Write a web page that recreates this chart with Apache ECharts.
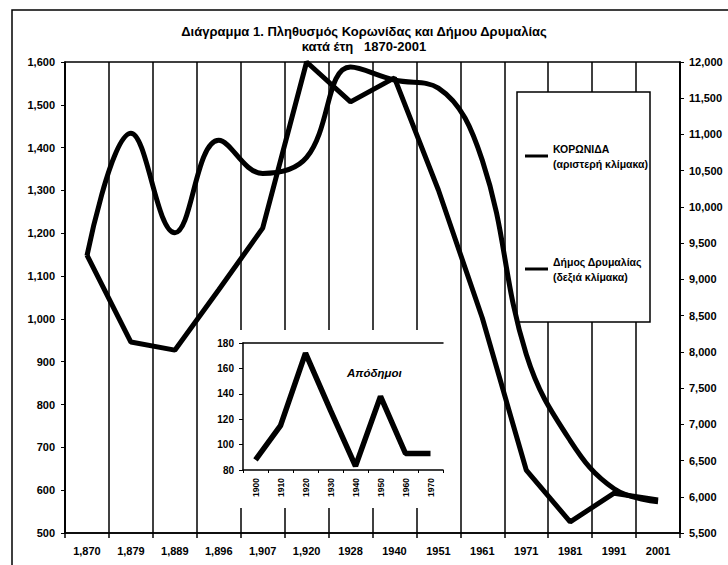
<!DOCTYPE html>
<html><head><meta charset="utf-8">
<script src="https://cdn.jsdelivr.net/npm/echarts@6/dist/echarts.min.js"></script>
<style>html,body{margin:0;padding:0;background:#fff}#c{width:728px;height:565px}</style>
</head><body><div id="c"></div>
<script>
const years = ["1,870","1,879","1,889","1,896","1,907","1,920","1928","1940","1951","1961","1971","1981","1991","2001"];
const koronida = [1149, 946, 927, 1068, 1212, 1600, 1507, 1563, 1301, 1002, 647, 526, 593, 577];
const drymalia = [9325, 11016, 9644, 10919, 10462, 10683, 11931, 11751, 11640, 10642, 7967, 6776, 6110, 5930];
const insetCats = ["1900","1910","1920","1930","1940","1950","1960","1970"];
const insetVals = [88, 115, 172, 127, 83, 138, 93, 93];
const titleLines = ["Διάγραμμα 1. Πληθυσμός Κορωνίδας και Δήμου Δρυμαλίας", "κατά έτη   1870-2001"];
const nameK = "ΚΟΡΩΝΙΔΑ", nameD = "Δήμος Δρυμαλίας";
const insetName = "Απόδημοι";

const F = "Liberation Sans, Arial, sans-serif";
const lbl = {color:'#000', fontWeight:'bold', fontSize:11, fontFamily:F};
const fmt = v => Number(v).toLocaleString('en-US');
const chart = echarts.init(document.getElementById('c'), null, {renderer:'svg'});
chart.setOption({
  animation:false,
  title:{text:titleLines.join('\n'), left:'center', top:19, textStyle:{fontSize:13, fontWeight:'bold', color:'#000', fontFamily:F, lineHeight:15}},
  legend:{orient:'vertical', left:520, top:136, itemGap:83, itemWidth:23, itemHeight:3, icon:'rect',
    data:[nameK, nameD],
    formatter: n => n === nameK ? n + '\n(αριστερή κλίμακα)' : n + '\n(δεξιά κλίμακα)',
    textStyle:{color:'#000', fontWeight:'bold', fontSize:10.5, fontFamily:F, lineHeight:15}},
  graphic:[
    {type:'rect', shape:{x:12, y:10, width:800, height:700}, style:{fill:'none', stroke:'#000', lineWidth:1.5}, z:0, silent:true},
    {type:'rect', shape:{x:517, y:92, width:133, height:230}, style:{fill:'#fff', stroke:'#000', lineWidth:1.5}, z:1, silent:true},
    {type:'rect', shape:{x:205, y:330, width:248, height:178}, style:{fill:'#fff'}, z:1, silent:true},
    {type:'text', left:347, top:367, style:{text:insetName, fill:'#000', font:'italic bold 11.5px Liberation Sans, Arial, sans-serif'}, z:10}
  ],
  grid:[
    {left:65, top:62, width:615, height:471, show:true, borderColor:'#000', borderWidth:1.5, backgroundColor:'transparent'},
    {left:243, top:343, width:200, height:127, show:false}
  ],
  xAxis:[
    {type:'category', gridIndex:0, data:years, boundaryGap:true,
     axisLine:{lineStyle:{color:'#000', width:1.5}}, axisTick:{show:true, length:5, lineStyle:{color:'#000', width:1.5}},
     splitLine:{show:true, lineStyle:{color:'#000', width:1.5}},
     axisLabel:{...lbl, margin:12, interval:0}},
    {type:'category', gridIndex:1, data:insetCats, boundaryGap:true, z:5,
     axisLine:{lineStyle:{color:'#000', width:1.5}}, axisTick:{show:true, length:3, lineStyle:{color:'#000'}},
     splitLine:{show:false},
     axisLabel:{...lbl, fontSize:8.5, rotate:90, margin:8, interval:0}},
    {type:'category', gridIndex:1, data:insetCats, position:'top', boundaryGap:true, z:5,
     axisLine:{lineStyle:{color:'#000', width:1.5}}, axisTick:{show:false}, axisLabel:{show:false}, splitLine:{show:false}}
  ],
  yAxis:[
    {type:'value', gridIndex:0, position:'left', min:500, max:1600, interval:100,
     axisLine:{show:true, lineStyle:{color:'#000', width:1.5}}, axisTick:{show:true, length:4, lineStyle:{color:'#000'}},
     splitLine:{show:false}, axisLabel:{...lbl, margin:10, formatter:fmt}},
    {type:'value', gridIndex:0, position:'right', min:5500, max:12000, interval:500,
     axisLine:{show:true, lineStyle:{color:'#000', width:1.5}}, axisTick:{show:true, length:4, lineStyle:{color:'#000'}},
     splitLine:{show:false}, axisLabel:{...lbl, margin:9, formatter:fmt}},
    {type:'value', gridIndex:1, min:80, max:180, interval:20, z:5,
     axisLine:{show:true, lineStyle:{color:'#000', width:1.5}}, axisTick:{show:true, length:4, lineStyle:{color:'#000'}},
     splitLine:{show:false}, axisLabel:{...lbl, fontSize:10, margin:9}}
  ],
  series:[
    {name:nameK, type:'line', xAxisIndex:0, yAxisIndex:0, data:koronida, symbol:'none', z:3,
     lineStyle:{color:'#000', width:5}, itemStyle:{color:'#000'}},
    {name:nameD, type:'line', xAxisIndex:0, yAxisIndex:1, data:drymalia, symbol:'none', smooth:0.4, z:3,
     lineStyle:{color:'#000', width:5}, itemStyle:{color:'#000'}},
    {name:insetName, type:'line', xAxisIndex:1, yAxisIndex:2, data:insetVals, symbol:'none', z:6,
     lineStyle:{color:'#000', width:5.5}, itemStyle:{color:'#000'}}
  ]
});
</script></body></html>
